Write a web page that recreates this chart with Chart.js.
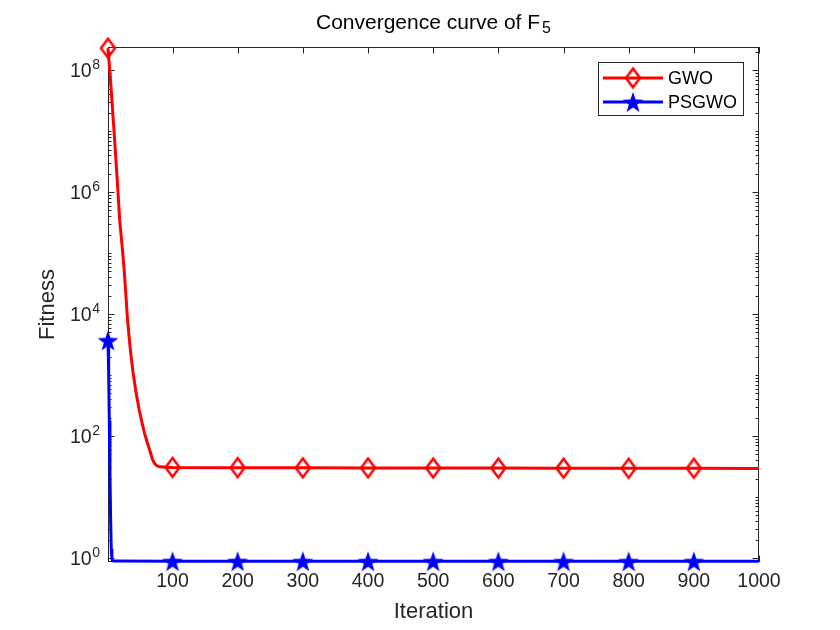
<!DOCTYPE html>
<html>
<head>
<meta charset="utf-8">
<title>Convergence curve of F5</title>
<script src="https://cdn.jsdelivr.net/npm/chart.js@4.4.1/dist/chart.umd.min.js"></script>
<style>
  html, body { margin: 0; padding: 0; background: #ffffff; }
  #wrap { width: 840px; height: 630px; }
</style>
</head>
<body>
<div id="wrap"><canvas id="grafico" width="840" height="630"></canvas></div>
<script>
// Data
const iterGWO = [1, 5, 10, 15, 19, 23, 26, 31, 35, 39, 44, 49, 53, 57, 61, 65, 69, 72, 76, 80, 86, 91,
                 100, 200, 300, 400, 500, 600, 700, 800, 900, 1000];
const fitGWO = [2.3e8, 6.5e7, 1.1e7, 1.7e6, 3.4e5, 1.2e5, 5.0e4, 8.0e3, 2.8e3, 1.2e3, 5.2e2, 2.65e2, 1.7e2, 1.12e2, 80, 59, 42, 36, 32.5, 31.3, 31, 30.8,
                30.6, 30.3, 30.1, 30.0, 29.9, 29.8, 29.7, 29.6, 29.6, 29.5];

const iterPSGWO = [1, 2, 3, 4, 5, 6, 7, 8, 10,
                   100, 200, 300, 400, 500, 600, 700, 800, 900, 1000];
const fitPSGWO = [3700, 1100, 180, 25, 4.5, 1.4, 0.97, 0.9, 0.89,
                  0.885, 0.885, 0.884, 0.884, 0.883, 0.883, 0.882, 0.882, 0.881, 0.881];

const iterMarcadores = [1, 100, 200, 300, 400, 500, 600, 700, 800, 900];
const xTicks = [100, 200, 300, 400, 500, 600, 700, 800, 900, 1000];
const yDecadasRotulo = [0, 2, 4, 6, 8];

const titulo = 'Convergence curve of F';
const tituloIndice = '5';

const corEixo = '#262626';
const fonte = "'Liberation Sans', Arial, Helvetica, sans-serif";

// Marker images (MATLAB-like diamond and pentagram)
function criarDiamante(w, h, cor) {
    const c = document.createElement('canvas');
    c.width = w + 5; c.height = h + 5;
    const g = c.getContext('2d');
    const cx = c.width / 2, cy = c.height / 2;
    g.strokeStyle = cor;
    g.lineWidth = 2.5;
    g.beginPath();
    g.moveTo(cx, cy - h / 2);
    g.lineTo(cx + w / 2, cy);
    g.lineTo(cx, cy + h / 2);
    g.lineTo(cx - w / 2, cy);
    g.closePath();
    g.stroke();
    return c;
}

function criarEstrela(raio, cor) {
    const c = document.createElement('canvas');
    const s = Math.ceil(raio * 2) + 2;
    c.width = s; c.height = s;
    const g = c.getContext('2d');
    g.fillStyle = cor;
    g.beginPath();
    for (let i = 0; i < 10; i++) {
        const r = i % 2 === 0 ? raio : raio * 0.40;
        const a = -Math.PI / 2 + i * Math.PI / 5;
        const px = s / 2 + r * Math.cos(a);
        const py = s / 2 + raio * 0.1 + r * Math.sin(a);
        if (i === 0) g.moveTo(px, py); else g.lineTo(px, py);
    }
    g.closePath();
    g.fill();
    return c;
}

const diamante = criarDiamante(14, 19, '#ff0000');
const estrela = criarEstrela(11, '#0000ff');

function raioMarcador(ctx) {
    return ctx.raw && iterMarcadores.includes(ctx.raw.x) ? 6 : 0;
}

function ehDecadaRotulada(v) {
    const e = Math.log10(v);
    const r = Math.round(e);
    return Math.abs(e - r) < 1e-9 && yDecadasRotulo.includes(r) ? r : null;
}

// Box around the axes plus inward ticks on all four sides
const caixaEixos = {
    id: 'caixaEixos',
    beforeDatasetsDraw(chart) {
        const { ctx, chartArea: a, scales } = chart;
        ctx.save();
        ctx.strokeStyle = corEixo;
        ctx.lineWidth = 1;
        ctx.strokeRect(a.left + 0.5, a.top + 0.5, a.right - a.left - 1, a.bottom - a.top - 1);
        ctx.beginPath();
        scales.x.ticks.forEach(t => {
            const px = Math.round(scales.x.getPixelForValue(t.value)) + 0.5;
            ctx.moveTo(px, a.bottom); ctx.lineTo(px, a.bottom - 6.5);
            ctx.moveTo(px, a.top); ctx.lineTo(px, a.top + 6.5);
        });
        scales.y.ticks.forEach(t => {
            const py = Math.round(scales.y.getPixelForValue(t.value)) + 0.5;
            const len = ehDecadaRotulada(t.value) !== null ? 6.5 : 3.5;
            ctx.moveTo(a.left, py); ctx.lineTo(a.left + len, py);
            ctx.moveTo(a.right, py); ctx.lineTo(a.right - len, py);
        });
        ctx.stroke();
        ctx.restore();
    }
};

// Title with subscript and y tick labels with real exponents
const textosMatlab = {
    id: 'textosMatlab',
    afterDraw(chart) {
        const { ctx, chartArea: a, scales } = chart;
        ctx.save();
        // title
        ctx.fillStyle = '#000000';
        ctx.textBaseline = 'alphabetic';
        ctx.textAlign = 'left';
        ctx.font = '21px ' + fonte;
        const wT = ctx.measureText(titulo).width;
        ctx.font = '16px ' + fonte;
        const wI = ctx.measureText(tituloIndice).width;
        const xT = (a.left + a.right) / 2 - (wT + wI + 2) / 2;
        ctx.font = '21px ' + fonte;
        ctx.fillText(titulo, xT, 29);
        ctx.font = '16px ' + fonte;
        ctx.fillText(tituloIndice, xT + wT + 2, 33);

        // y tick labels: 10 with superscript exponent
        ctx.fillStyle = corEixo;
        scales.y.ticks.forEach(t => {
            const e = ehDecadaRotulada(t.value);
            if (e === null) return;
            const py = scales.y.getPixelForValue(t.value);
            const xd = a.left - 8;
            ctx.font = '14px ' + fonte;
            const wE = ctx.measureText(String(e)).width;
            ctx.textAlign = 'right';
            ctx.fillText(String(e), xd, py - 1);
            ctx.font = '19.5px ' + fonte;
            ctx.fillText('10', xd - wE - 0.5, py + 7);
        });
        ctx.restore();
    }
};

// Legend in the upper right corner, line with marker in the middle
const legendaMatlab = {
    id: 'legendaMatlab',
    afterDraw(chart) {
        const { ctx, chartArea: a } = chart;
        const x0 = a.right - 161, y0 = a.top + 15, w = 145, h = 53;
        const itens = [
            { nome: 'GWO', cor: '#ff0000', img: diamante, y: y0 + 16 },
            { nome: 'PSGWO', cor: '#0000ff', img: estrela, y: y0 + 40 }
        ];
        ctx.save();
        ctx.fillStyle = '#ffffff';
        ctx.fillRect(x0, y0, w, h);
        ctx.strokeStyle = corEixo;
        ctx.lineWidth = 1;
        ctx.strokeRect(x0 + 0.5, y0 + 0.5, w, h);
        itens.forEach(it => {
            ctx.strokeStyle = it.cor;
            ctx.lineWidth = 3;
            ctx.beginPath();
            ctx.moveTo(x0 + 5, it.y);
            ctx.lineTo(x0 + 65, it.y);
            ctx.stroke();
            ctx.drawImage(it.img, x0 + 35 - it.img.width / 2, it.y - it.img.height / 2);
            ctx.fillStyle = '#000000';
            ctx.font = '18px ' + fonte;
            ctx.textAlign = 'left';
            ctx.textBaseline = 'middle';
            ctx.fillText(it.nome, x0 + 70, it.y + 1);
        });
        ctx.restore();
    }
};

Chart.defaults.font.family = fonte;
Chart.defaults.color = corEixo;

const ctxGrafico = document.getElementById('grafico').getContext('2d');
new Chart(ctxGrafico, {
    type: 'line',
    data: {
        datasets: [
            {
                label: 'GWO',
                data: iterGWO.map((x, i) => ({ x: x, y: fitGWO[i] })),
                borderColor: '#ff0000',
                borderWidth: 3,
                pointStyle: diamante,
                pointRadius: raioMarcador,
                tension: 0,
                clip: false,
                order: 1
            },
            {
                label: 'PSGWO',
                data: iterPSGWO.map((x, i) => ({ x: x, y: fitPSGWO[i] })),
                borderColor: '#0000ff',
                borderWidth: 3,
                pointStyle: estrela,
                pointRadius: raioMarcador,
                tension: 0,
                clip: false,
                order: 0
            }
        ]
    },
    options: {
        responsive: false,
        animation: false,
        events: [],
        layout: { padding: { left: 0, right: 81, top: 47, bottom: 0 } },
        plugins: {
            legend: { display: false },
            tooltip: { enabled: false },
            title: { display: false }
        },
        scales: {
            x: {
                type: 'linear',
                min: 1,
                max: 1000,
                afterBuildTicks: s => { s.ticks = xTicks.map(v => ({ value: v })); },
                afterFit: s => { s.height = 68; },
                grid: { display: false, drawTicks: false },
                border: { display: false },
                ticks: {
                    autoSkip: false,
                    maxRotation: 0,
                    padding: 8,
                    font: { size: 19.5 },
                    callback: v => String(v)
                },
                title: {
                    display: true,
                    text: 'Iteration',
                    font: { size: 22 },
                    padding: { top: 0, bottom: 5 }
                }
            },
            y: {
                type: 'logarithmic',
                min: 0.86,
                max: 2.4e8,
                afterBuildTicks: s => {
                    const lista = [];
                    for (let k = 0; k <= 8; k++) {
                        for (let m = 1; m <= 9; m++) {
                            const v = m * Math.pow(10, k);
                            if (v >= s.min && v <= s.max) lista.push({ value: v });
                        }
                    }
                    s.ticks = lista;
                },
                afterFit: s => { s.width = 108; },
                grid: { display: false, drawTicks: false },
                border: { display: false },
                ticks: { display: false, autoSkip: false },
                title: {
                    display: true,
                    text: 'Fitness',
                    font: { size: 22 },
                    padding: { top: 35, bottom: 0 }
                }
            }
        }
    },
    plugins: [caixaEixos, textosMatlab, legendaMatlab]
});
</script>
</body>
</html>
